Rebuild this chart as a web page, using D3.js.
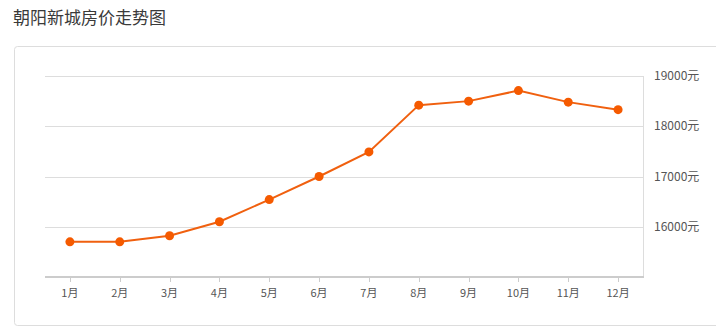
<!DOCTYPE html>
<meta charset="utf-8">
<style>
body { margin: 0; background: #fff; }
svg { font-family: "Noto Sans CJK SC", "Noto Sans", sans-serif; }
.title { font-size: 17px; fill: #3a3a3a; }
.lbl { font-size: 11px; fill: #555; }
.ylbl { font-size: 12px; fill: #555; }
</style>
<svg width="716" height="328"></svg>
<script src="https://cdn.jsdelivr.net/npm/d3@7"></script>
<script>

var months = ["1月","2月","3月","4月","5月","6月","7月","8月","9月","10月","11月","12月"];
var prices = [15700, 15700, 15820, 16100, 16540, 17000, 17490, 18420, 18500, 18710, 18480, 18330];
var yTicks = [16000, 17000, 18000, 19000];

var svg = d3.select("svg");

svg.append("text").attr("class", "title")
    .attr("x", 13).attr("y", 24)
    .text("朝阳新城房价走势图");

// outer panel
svg.append("rect")
    .attr("x", 14.5).attr("y", 46.5)
    .attr("width", 720).attr("height", 279)
    .attr("rx", 3)
    .attr("fill", "none").attr("stroke", "#ddd");

// plot area (don't use "top" - it's window.top)
var plotL = 45, plotR = 643, plotT = 76, plotB = 277;

var x = d3.scaleBand().domain(months).range([plotL, plotR]);
var y = d3.scaleLinear().domain([15000, 19000]).range([plotB, plotT]);

// grid
svg.selectAll(".grid")
  .data(yTicks)
  .enter().append("line")
    .attr("x1", plotL).attr("x2", plotR)
    .attr("y1", function(d) { return Math.round(y(d)) + 0.5; })
    .attr("y2", function(d) { return Math.round(y(d)) + 0.5; })
    .attr("stroke", "#ddd");

// right frame line
svg.append("line")
    .attr("x1", plotR + 0.5).attr("x2", plotR + 0.5)
    .attr("y1", plotT).attr("y2", plotB)
    .attr("stroke", "#ddd");

// x axis
svg.append("line")
    .attr("x1", plotL).attr("x2", plotR + 1)
    .attr("y1", plotB).attr("y2", plotB)
    .attr("stroke", "#ccc").attr("stroke-width", 2);

svg.selectAll(".tick")
  .data(months)
  .enter().append("line")
    .attr("x1", function(d) { return Math.round(x(d) + x.bandwidth() / 2) + 0.5; })
    .attr("x2", function(d) { return Math.round(x(d) + x.bandwidth() / 2) + 0.5; })
    .attr("y1", plotB).attr("y2", plotB + 5)
    .attr("stroke", "#ccc");

svg.selectAll(".xl")
  .data(months)
  .enter().append("text")
    .attr("class", "lbl")
    .attr("x", function(d) { return x(d) + x.bandwidth() / 2; })
    .attr("y", 297)
    .attr("text-anchor", "middle")
    .text(function(d) { return d; });

svg.selectAll(".yl")
  .data(yTicks)
  .enter().append("text")
    .attr("class", "ylbl")
    .attr("x", 654)
    .attr("y", function(d) { return y(d) + 4; })
    .text(function(d) { return d + "元"; });

var line = d3.line()
    .x(function(d, i) { return x(months[i]) + x.bandwidth() / 2; })
    .y(function(d) { return y(d); });

svg.append("path")
    .datum(prices)
    .attr("d", line)
    .attr("fill", "none")
    .attr("stroke", "#f0600f")
    .attr("stroke-width", 2);

svg.selectAll(".dot")
  .data(prices)
  .enter().append("circle")
    .attr("cx", function(d, i) { return x(months[i]) + x.bandwidth() / 2; })
    .attr("cy", function(d) { return y(d); })
    .attr("r", 4.5)
    .attr("fill", "#f55a00");

</script>
